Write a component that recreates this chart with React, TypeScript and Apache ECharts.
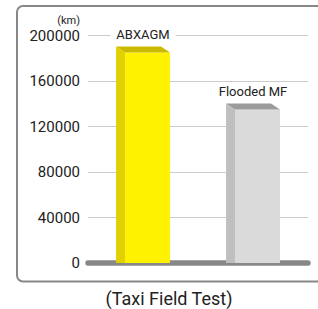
import React, { useEffect, useRef } from "react";
import * as echarts from "echarts";

const categories = ["ABXAGM", "Flooded MF"];
const values = [185000, 135000];
const yTicks = [0, 40000, 80000, 120000, 160000, 200000];
const unitLabel = "(km)";
const caption = "(Taxi Field Test)";
const frontColors = ["#fff200", "#dadada"];
const sideColors = ["#e2d100", "#bfbfbf"];
const topColors = ["#c9b900", "#9b9b9b"];

export default function App() {
  const ref = useRef<HTMLDivElement>(null);
  useEffect(() => {
    const chart = echarts.init(ref.current!, null, { renderer: "svg" });
    const font = "Roboto";
    chart.setOption({
      animation: false,
      grid: { left: 88, right: 10, top: 35.5, bottom: 46, containLabel: false },
      xAxis: {
        type: "category",
        data: categories,
        axisLine: { show: true, lineStyle: { color: "#888888", width: 5.5 } },
        axisTick: { show: false },
        axisLabel: { show: false },
      },
      yAxis: {
        type: "value",
        min: yTicks[0],
        max: yTicks[yTicks.length - 1],
        interval: 40000,
        axisLine: { show: false },
        axisTick: { show: false },
        axisLabel: {
          color: "#222",
          fontFamily: font,
          fontSize: 15,
          margin: 8,
          formatter: (v: number) => String(v),
        },
        splitLine: { lineStyle: { color: "#cccccc", width: 1 } },
      },
      graphic: [
        {
          type: "rect",
          shape: { x: 17, y: 6, width: 330, height: 275.5, r: 6 },
          style: { fill: "none", stroke: "#888888", lineWidth: 2 },
          z: 0,
        },
        {
          type: "text",
          x: 80,
          y: 20,
          style: {
            text: unitLabel,
            fill: "#222",
            font: `11px ${font}`,
            textAlign: "right",
            textVerticalAlign: "middle",
          },
        },
        {
          type: "text",
          x: 169,
          y: 298,
          style: {
            text: caption,
            fill: "#222",
            font: `18px ${font}`,
            textAlign: "center",
            textVerticalAlign: "middle",
          },
        },
      ],
      series: [
        {
          type: "custom",
          data: values.map((v, i) => [i, v]),
          z: 1,
          renderItem: (params: any, api: any) => {
            const idx = api.value(0);
            const v = api.value(1);
            const top = api.coord([idx, v]);
            const base = api.coord([idx, 0]);
            const bw = api.size([1, 0])[0] * 0.49;
            const x0 = top[0] - bw / 2;
            const x1 = x0 + bw;
            const t = top[1];
            const b = base[1];
            const sw = 9;
            const up = 6;
            return {
              type: "group",
              children: [
                {
                  type: "polygon",
                  shape: { points: [[x0, t - up], [x0 + sw, t], [x0 + sw, b], [x0, b]] },
                  style: { fill: sideColors[idx] },
                },
                {
                  type: "rect",
                  shape: { x: x0 + sw, y: t, width: bw - sw, height: b - t },
                  style: { fill: frontColors[idx] },
                },
                {
                  type: "polygon",
                  shape: { points: [[x0, t - up], [x1 - sw, t - up], [x1, t], [x0 + sw, t]] },
                  style: { fill: topColors[idx] },
                },
                {
                  type: "text",
                  x: top[0],
                  y: t - 18,
                  style: {
                    text: categories[idx],
                    fill: "#222",
                    font: `13px ${font}`,
                    textAlign: "center",
                    textVerticalAlign: "middle",
                    backgroundColor: "#ffffff",
                    padding: [0, 6],
                  },
                },
              ],
            };
          },
        },
      ],
    });
    return () => chart.dispose();
  }, []);
  return <div ref={ref} style={{ width: 318, height: 309, position: "absolute", left: 0, top: 0 }} />;
}
